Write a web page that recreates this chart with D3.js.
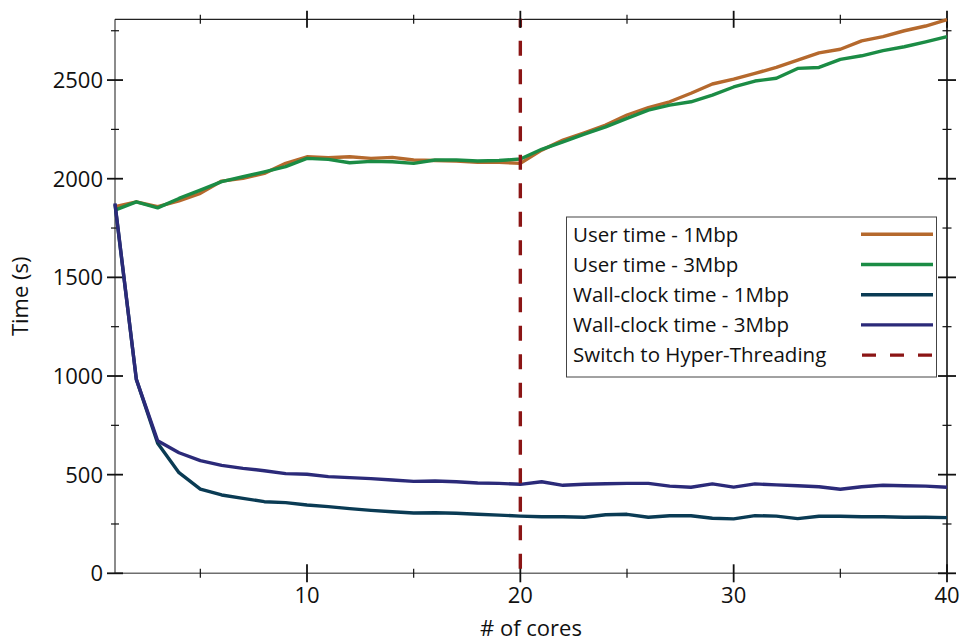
<!DOCTYPE html>
<html>
<head>
<meta charset="utf-8">
<script src="https://cdnjs.cloudflare.com/ajax/libs/d3/7.8.5/d3.min.js"></script>
<style>
  html, body { margin: 0; padding: 0; background: #fff; }
  text { font-family: "Open Sans", sans-serif; fill: #111; }
</style>
</head>
<body>
<div id="chart"></div>
<script>
var cores = [1, 2, 3, 4, 5, 6, 7, 8, 9, 10, 11, 12, 13, 14, 15, 16, 17, 18, 19, 20,
  21, 22, 23, 24, 25, 26, 27, 28, 29, 30, 31, 32, 33, 34, 35, 36, 37, 38, 39, 40];

var userTime1M = [1858, 1883, 1858, 1888, 1926, 1988, 2002, 2027, 2078, 2111,
  2106, 2111, 2103, 2108, 2095, 2092, 2090, 2083, 2083, 2078,
  2145, 2196, 2233, 2272, 2323, 2360, 2390, 2433, 2480, 2505,
  2534, 2564, 2601, 2638, 2656, 2699, 2720, 2750, 2774, 2806];

var userTime3M = [1841, 1883, 1852, 1900, 1942, 1985, 2010, 2035, 2061, 2103,
  2098, 2081, 2088, 2086, 2078, 2095, 2095, 2090, 2092, 2100,
  2149, 2187, 2226, 2263, 2306, 2348, 2373, 2390, 2424, 2465,
  2495, 2509, 2559, 2564, 2605, 2623, 2649, 2669, 2694, 2720];

var wallTime1M = [1870, 983, 659, 510, 427, 397, 380, 363, 358, 346,
  338, 328, 319, 312, 306, 307, 304, 299, 295, 290,
  287, 287, 284, 297, 299, 284, 292, 292, 279, 276,
  292, 290, 277, 289, 289, 287, 287, 284, 284, 282];

var wallTime3M = [1875, 983, 672, 611, 571, 547, 532, 520, 505, 502,
  490, 485, 480, 473, 466, 468, 464, 458, 456, 451,
  464, 446, 451, 454, 456, 456, 442, 436, 453, 437,
  453, 448, 444, 439, 426, 439, 446, 444, 442, 436];

var htSwitch = 20;

var xMajor = [10, 20, 30, 40];
var xMinor = [5, 15, 25, 35];
var yMajor = [0, 500, 1000, 1500, 2000, 2500];
var yMinor = [250, 750, 1250, 1750, 2250, 2750];

var legendLabels = ['User time - 1Mbp', 'User time - 3Mbp', 'Wall-clock time - 1Mbp',
  'Wall-clock time - 3Mbp', 'Switch to Hyper-Threading'];

var colors = {
  'orange': '#b5692d',
  'green': '#1b8c45',
  'teal': '#0a3b54',
  'navy': '#2b2a79',
  'red': '#8b1515'
};

var width = 963;
var height = 642;
var padL = 115, padR = 947, padT = 19.3, padB = 573.3;

var x = d3.scaleLinear()
  .domain([1, 40])
  .range([padL, padR]);

var y = d3.scaleLinear()
  .domain([0, 2808])
  .range([padB, padT]);

var svg = d3.select('#chart').append('svg')
  .attr('width', width)
  .attr('height', height);

// frame: left/bottom gray, top/right dark
svg.append('line')
  .attr('x1', padL).attr('x2', padL).attr('y1', padT).attr('y2', padB)
  .attr('stroke', '#6e6e6e').attr('stroke-width', 1.6);
svg.append('line')
  .attr('x1', padL).attr('x2', padR).attr('y1', padB).attr('y2', padB)
  .attr('stroke', '#6e6e6e').attr('stroke-width', 1.6);
svg.append('line')
  .attr('x1', padL).attr('x2', padR).attr('y1', padT).attr('y2', padT)
  .attr('stroke', '#222').attr('stroke-width', 1.3);
svg.append('line')
  .attr('x1', padR).attr('x2', padR).attr('y1', padT).attr('y2', padB)
  .attr('stroke', '#111').attr('stroke-width', 1.6);

function ticks(vals, horiz, pos, half, w) {
  svg.append('g').selectAll('line')
    .data(vals)
    .enter().append('line')
    .attr('x1', function (d) { return horiz ? x(d) : pos - half; })
    .attr('x2', function (d) { return horiz ? x(d) : pos + half; })
    .attr('y1', function (d) { return horiz ? pos - half : y(d); })
    .attr('y2', function (d) { return horiz ? pos + half : y(d); })
    .attr('stroke', '#111')
    .attr('stroke-width', w);
}

ticks(xMajor, true, padB, 9, 1.8);
ticks(xMinor, true, padB, 4.5, 1.2);
ticks(xMajor, true, padT, 8.5, 1.8);
ticks(xMinor, true, padT, 4.5, 1.2);
ticks(yMajor, false, padL, 8, 1.8);
ticks(yMinor, false, padL, 4, 1.2);
ticks(yMajor, false, padR, 9, 1.8);
ticks(yMinor, false, padR, 4.5, 1.2);

svg.append('g').selectAll('text')
  .data(xMajor)
  .enter().append('text')
  .attr('x', function (d) { return x(d); })
  .attr('y', 603)
  .attr('text-anchor', 'middle')
  .attr('font-size', 22)
  .text(function (d) { return d; });

svg.append('g').selectAll('text')
  .data(yMajor)
  .enter().append('text')
  .attr('x', 103)
  .attr('y', function (d) { return y(d); })
  .attr('dy', '0.36em')
  .attr('text-anchor', 'end')
  .attr('font-size', 22)
  .text(function (d) { return d; });

svg.append('text')
  .attr('x', 531)
  .attr('y', 636)
  .attr('text-anchor', 'middle')
  .attr('font-size', 22)
  .text('# of cores');

svg.append('text')
  .attr('transform', 'translate(28,' + (padT + padB) / 2 + ') rotate(-90)')
  .attr('text-anchor', 'middle')
  .attr('font-size', 22)
  .text('Time (s)');

var line = d3.line()
  .x(function (d) { return x(d[0]); })
  .y(function (d) { return y(d[1]); });

var series = [
  [userTime1M, colors.orange],
  [userTime3M, colors.green],
  [wallTime1M, colors.teal],
  [wallTime3M, colors.navy]
];

series.forEach(function (s) {
  svg.append('path')
    .datum(d3.zip(cores, s[0]))
    .attr('fill', 'none')
    .attr('stroke', s[1])
    .attr('stroke-width', 3.4)
    .attr('stroke-linejoin', 'round')
    .attr('d', line);
});

svg.append('line')
  .attr('x1', x(htSwitch)).attr('x2', x(htSwitch))
  .attr('y1', y(2808) - 7).attr('y2', padB)
  .attr('stroke', colors.red)
  .attr('stroke-width', 3.4)
  .attr('stroke-dasharray', '15,13.5');

// cover dash overshoot above frame
svg.append('rect')
  .attr('x', x(htSwitch) - 4).attr('y', 0)
  .attr('width', 8).attr('height', padT - 0.7)
  .attr('fill', '#fff');
svg.append('line')
  .attr('x1', x(htSwitch)).attr('x2', x(htSwitch))
  .attr('y1', padT - 8.5).attr('y2', padT + 8.5)
  .attr('stroke', '#111').attr('stroke-width', 1.8);

// legend
var legend = svg.append('g');
legend.append('rect')
  .attr('x', 566.5).attr('y', 217)
  .attr('width', 370).attr('height', 160)
  .attr('fill', '#fff')
  .attr('stroke', '#444')
  .attr('stroke-width', 1);

var legendColors = [colors.orange, colors.green, colors.teal, colors.navy, colors.red];

legendLabels.forEach(function (lab, i) {
  var cy = 234.3 + i * 30.2;
  legend.append('text')
    .attr('x', 573)
    .attr('y', cy)
    .attr('dy', '0.36em')
    .attr('font-size', 20.5)
    .text(lab);
  legend.append('line')
    .attr('x1', i === 4 ? 862 : 861).attr('x2', 933)
    .attr('y1', cy).attr('y2', cy)
    .attr('stroke', legendColors[i])
    .attr('stroke-width', 3.4)
    .attr('stroke-dasharray', i === 4 ? '14,14' : null);
});
</script>
</body>
</html>
